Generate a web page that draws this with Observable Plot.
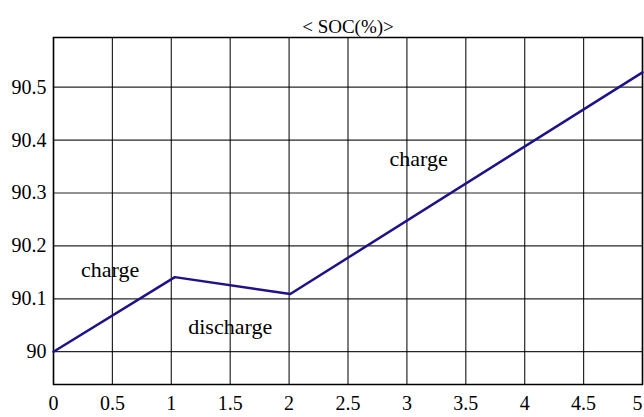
<!DOCTYPE html>
<html>
<head>
<meta charset="utf-8">
<script src="https://cdn.jsdelivr.net/npm/d3@7"></script>
<script src="https://cdn.jsdelivr.net/npm/@observablehq/plot@0.6"></script>
<style>
  html, body { margin: 0; padding: 0; background: #fff; }
  #chart svg { display: block; }
  #chart svg text { font-family: 'Liberation Serif', 'DejaVu Serif', serif; }
</style>
</head>
<body>
<div id="chart"></div>
<script>
const titleText = "< SOC(%)>";
const timeValues = [0, 1.03, 2.01, 5];
const socValues = [90.0, 90.141, 90.109, 90.528];
const xTicks = [0, 0.5, 1, 1.5, 2, 2.5, 3, 3.5, 4, 4.5, 5];
const yTicks = [90, 90.1, 90.2, 90.3, 90.4, 90.5];
const labelTexts = ["charge", "discharge", "charge"];
const labelX = [0.48, 1.5, 3.1];
const labelY = [90.154, 90.046, 90.365];

const series = timeValues.map((t, i) => ({t, soc: socValues[i]}));
const labels = labelTexts.map((s, i) => ({s, x: labelX[i], y: labelY[i]}));
const serif = "'Liberation Serif', 'DejaVu Serif', serif";

const chart = Plot.plot({
  width: 644,
  height: 417,
  marginTop: 37,
  marginBottom: 33,
  marginLeft: 53,
  marginRight: 2,
  style: {fontFamily: serif, fontSize: "20px", color: "#000", background: "#fff"},
  x: {domain: [0, 5], label: null},
  y: {domain: [89.938, 90.594], label: null},
  marks: [
    Plot.gridX(xTicks, {stroke: "#000", strokeOpacity: 0.85, strokeWidth: 1.2}),
    Plot.gridY(yTicks, {stroke: "#000", strokeOpacity: 0.85, strokeWidth: 1.2}),
    Plot.frame({stroke: "#000", strokeWidth: 1.5}),
    Plot.axisX(xTicks.slice(0, -1), {tickSize: 0, tickPadding: 11, label: null, fontSize: 20, fontFamily: serif, fill: "#000", tickFormat: d => String(d)}),
    Plot.axisX(xTicks.slice(-1), {tickSize: 0, tickPadding: 11, label: null, fontSize: 20, fontFamily: serif, fill: "#000", textAnchor: "end", dx: 0, tickFormat: d => String(d)}),
    Plot.axisY(yTicks, {tickSize: 0, tickPadding: 7, label: null, fontSize: 20, fontFamily: serif, fill: "#000", tickFormat: d => String(+d.toFixed(1))}),
    Plot.line(series, {x: "t", y: "soc", stroke: "#1d1289", strokeWidth: 2.5}),
    Plot.text(labels, {x: "x", y: "y", text: "s", fontSize: 22, fontFamily: serif, fill: "#000"}),
    Plot.text([titleText], {frameAnchor: "top", dy: -18, text: d => d, fontSize: 19, fontFamily: serif, fill: "#000"})
  ]
});
document.getElementById("chart").append(chart);
</script>
</body>
</html>
